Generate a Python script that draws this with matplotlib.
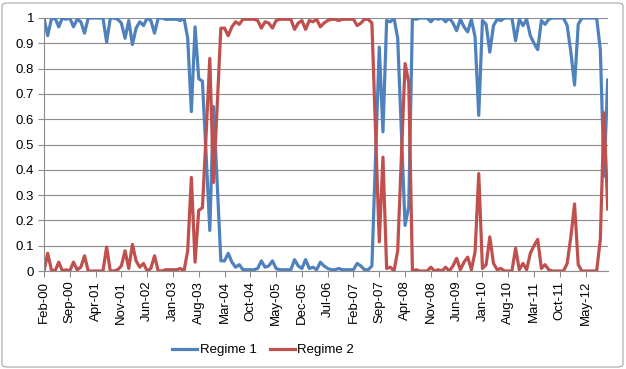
import matplotlib.pyplot as plt
from matplotlib.patches import FancyBboxPatch

# Monthly regime probabilities, Feb-00 .. Nov-12
regime1 = [1.0, 0.93, 0.995, 1.0, 0.965, 1.0, 0.995, 1.0, 0.965, 0.995,
           0.985, 0.94, 1.0, 1.0, 1.0, 1.0, 1.0, 0.905, 1.0, 1.0,
           0.995, 0.98, 0.92, 0.99, 0.895, 0.96, 0.985, 0.97, 1.0, 0.99,
           0.94, 1.0, 1.0, 0.995, 0.995, 0.995, 0.995, 0.99, 1.0, 0.92,
           0.63, 0.965, 0.76, 0.75, 0.46, 0.16, 0.65, 0.35, 0.04, 0.04,
           0.07, 0.035, 0.015, 0.025, 0.005, 0.005, 0.005, 0.005, 0.01, 0.04,
           0.015, 0.02, 0.04, 0.01, 0.005, 0.005, 0.005, 0.005, 0.045, 0.02,
           0.01, 0.045, 0.01, 0.015, 0.005, 0.035, 0.02, 0.01, 0.005, 0.005,
           0.01, 0.005, 0.005, 0.005, 0.005, 0.03, 0.02, 0.005, 0.005, 0.02,
           0.45, 0.885, 0.55, 0.99, 0.985, 1.0, 0.92, 0.55, 0.18, 0.255,
           1.0, 0.995, 1.0, 1.0, 1.0, 0.985, 1.0, 0.995, 1.0, 0.985,
           1.0, 0.98, 0.95, 0.995, 0.965, 0.945, 0.995, 0.925, 0.615, 0.99,
           0.975, 0.865, 0.97, 0.995, 0.99, 1.0, 1.0, 1.0, 0.91, 0.995,
           0.97, 0.995, 0.93, 0.9, 0.875, 0.99, 0.975, 0.995, 1.0, 1.0,
           1.0, 1.0, 0.97, 0.865, 0.735, 0.975, 1.0, 1.0, 1.0, 1.0,
           1.0, 0.875, 0.375, 0.755]

regime2 = [0.0, 0.07, 0.005, 0.0, 0.035, 0.0, 0.005, 0.0, 0.035, 0.005,
           0.015, 0.06, 0.0, 0.0, 0.0, 0.0, 0.0, 0.095, 0.0, 0.0,
           0.005, 0.02, 0.08, 0.01, 0.105, 0.04, 0.015, 0.03, 0.0, 0.01,
           0.06, 0.0, 0.0, 0.005, 0.005, 0.005, 0.005, 0.01, 0.0, 0.08,
           0.37, 0.035, 0.24, 0.25, 0.54, 0.84, 0.35, 0.65, 0.96, 0.96,
           0.93, 0.965, 0.985, 0.975, 0.995, 0.995, 0.995, 0.995, 0.99, 0.96,
           0.985, 0.98, 0.96, 0.99, 0.995, 0.995, 0.995, 0.995, 0.955, 0.98,
           0.99, 0.955, 0.99, 0.985, 0.995, 0.965, 0.98, 0.99, 0.995, 0.995,
           0.99, 0.995, 0.995, 0.995, 0.995, 0.97, 0.98, 0.995, 0.995, 0.98,
           0.55, 0.115, 0.45, 0.01, 0.015, 0.0, 0.08, 0.45, 0.82, 0.745,
           0.0, 0.005, 0.0, 0.0, 0.0, 0.015, 0.0, 0.005, 0.0, 0.015,
           0.0, 0.02, 0.05, 0.005, 0.035, 0.055, 0.005, 0.075, 0.385, 0.01,
           0.025, 0.135, 0.03, 0.005, 0.01, 0.0, 0.0, 0.0, 0.09, 0.005,
           0.03, 0.005, 0.07, 0.1, 0.125, 0.01, 0.025, 0.005, 0.0, 0.0,
           0.0, 0.0, 0.03, 0.135, 0.265, 0.025, 0.0, 0.0, 0.0, 0.0,
           0.0, 0.125, 0.625, 0.245]

# one label every 7 months
tick_labels = ['Feb-00', 'Sep-00', 'Apr-01', 'Nov-01', 'Jun-02', 'Jan-03',
               'Aug-03', 'Mar-04', 'Oct-04', 'May-05', 'Dec-05', 'Jul-06',
               'Feb-07', 'Sep-07', 'Apr-08', 'Nov-08', 'Jun-09', 'Jan-10',
               'Aug-10', 'Mar-11', 'Oct-11', 'May-12']

plt.rcParams['font.family'] = ['Liberation Sans', 'DejaVu Sans']

W, H = 626, 369
fig = plt.figure(figsize=(W / 100, H / 100), dpi=100)
ax = fig.add_axes([44 / W, 1 - 271 / H, (607.7 - 44) / W, (271 - 18) / H])

x = range(len(regime1))
ax.plot(x, regime1, color='#4F81BD', lw=2.3, label='Regime 1', solid_joinstyle='round')
ax.plot(x, regime2, color='#C0504D', lw=2.3, label='Regime 2', solid_joinstyle='round')

ax.set_xlim(0, len(regime1) - 1)
ax.set_ylim(0, 1)
ax.set_yticks([i / 10 for i in range(11)])
ax.set_yticklabels(['0', '0.1', '0.2', '0.3', '0.4', '0.5', '0.6', '0.7', '0.8', '0.9', '1'])
ax.set_xticks(range(0, 7 * len(tick_labels), 7))
ax.set_xticklabels(tick_labels, rotation=90)

ax.grid(axis='y', color='#8C8C8C', lw=0.8)
ax.set_axisbelow(True)
for side in ['top', 'right']:
    ax.spines[side].set_visible(False)
for side in ['left', 'bottom']:
    ax.spines[side].set_color('#8C8C8C')
    ax.spines[side].set_linewidth(0.8)
ax.tick_params(axis='both', colors='#8C8C8C', labelcolor='black', labelsize=9.5, length=4, width=0.8)
ax.tick_params(axis='y', pad=3)
ax.tick_params(axis='x', pad=3)

fig.legend(loc='center', bbox_to_anchor=(263 / W, 1 - 350 / H), ncol=2, frameon=False,
           fontsize=9.5, handlelength=1.9, columnspacing=1.0, handletextpad=0.2)

# chart border
fig.patches.append(FancyBboxPatch((2 / W, 2 / H), 621 / W, 364 / H,
                                  boxstyle='round,pad=0,rounding_size=0.008',
                                  transform=fig.transFigure, fill=False,
                                  edgecolor='#A6A6A6', lw=0.8))

fig.savefig('out.png', dpi=100)
